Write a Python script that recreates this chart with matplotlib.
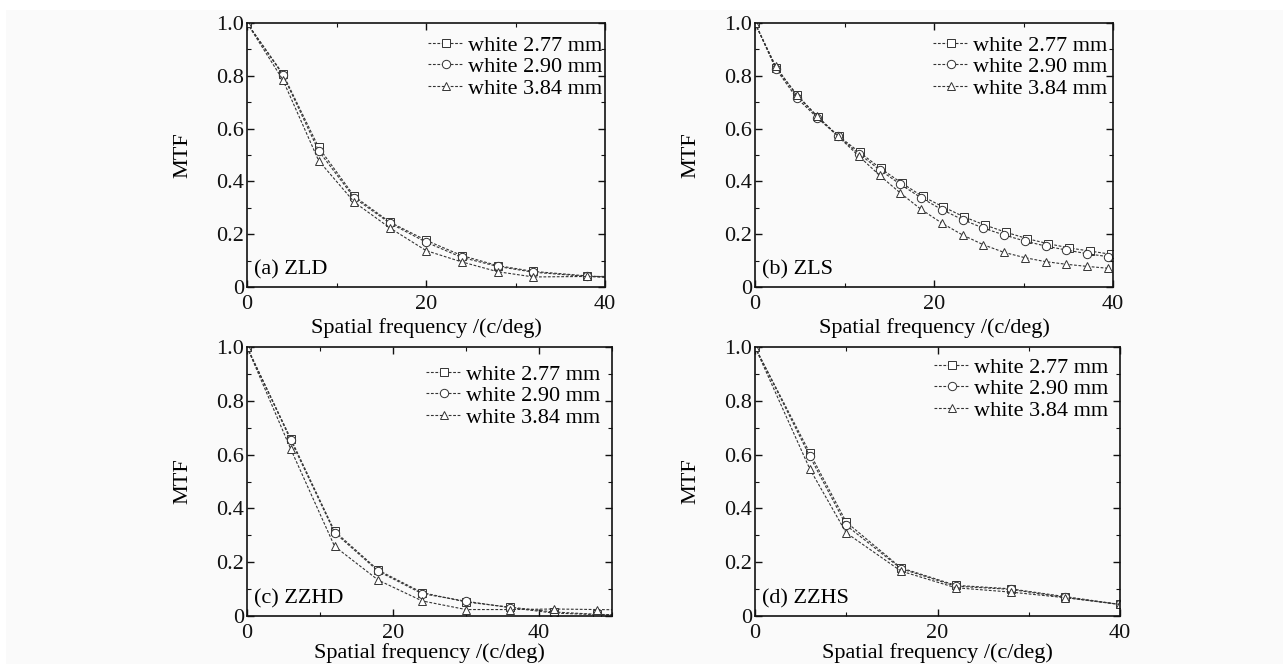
import matplotlib
matplotlib.use("Agg")
import matplotlib.pyplot as plt
from matplotlib.ticker import MultipleLocator, FuncFormatter
from matplotlib.patches import Rectangle

plt.rcParams['font.family'] = ['Liberation Serif', 'DejaVu Serif']

labels = ["white 2.77 mm", "white 2.90 mm", "white 3.84 mm"]
markers = ["s", "o", "^"]

# (a) ZLD
a_x = [0, 4, 8, 12, 16, 20, 24, 28, 32, 38, 42]
a_sq = [1.0, 0.808, 0.529, 0.343, 0.245, 0.177, 0.119, 0.081, 0.059, 0.042, 0.034]
a_ci = [1.0, 0.804, 0.516, 0.337, 0.241, 0.170, 0.112, 0.078, 0.056, 0.040, 0.033]
a_tr = [1.0, 0.785, 0.479, 0.321, 0.223, 0.138, 0.095, 0.058, 0.038, 0.040, 0.040]

# (b) ZLS
b_x_sq = [0, 2.34, 4.68, 7.02, 9.36, 11.7, 14.04, 16.38, 18.72, 21.06, 23.4, 25.74, 28.08, 30.42, 32.76, 35.1, 37.44, 39.78]
b_x_ci = [0, 2.32, 4.64, 6.96, 9.28, 11.6, 13.92, 16.24, 18.56, 20.88, 23.2, 25.52, 27.84, 30.16, 32.48, 34.8, 37.12, 39.44]
b_sq = [1.0, 0.830, 0.729, 0.644, 0.571, 0.510, 0.449, 0.394, 0.343, 0.303, 0.265, 0.234, 0.207, 0.183, 0.164, 0.148, 0.136, 0.124]
b_ci = [1.0, 0.827, 0.717, 0.641, 0.571, 0.505, 0.444, 0.389, 0.338, 0.293, 0.255, 0.223, 0.197, 0.174, 0.155, 0.140, 0.126, 0.115]
b_tr = [1.0, 0.836, 0.726, 0.646, 0.571, 0.496, 0.423, 0.356, 0.294, 0.242, 0.197, 0.160, 0.131, 0.111, 0.096, 0.086, 0.078, 0.071]

# (c) ZZHD
c_x = [0, 6, 12, 18, 24, 30, 36, 42, 48, 54]
c_sq = [1.0, 0.659, 0.315, 0.170, 0.087, 0.052, 0.033, 0.015, 0.006, 0.003]
c_ci = [1.0, 0.653, 0.310, 0.166, 0.083, 0.055, 0.031, 0.011, 0.005, 0.003]
c_tr = [1.0, 0.620, 0.259, 0.133, 0.056, 0.024, 0.024, 0.026, 0.024, 0.022]

# (d) ZZHS
d_x = [0, 6, 10, 16, 22, 28, 34, 40]
d_sq = [1.0, 0.606, 0.349, 0.179, 0.114, 0.101, 0.072, 0.043]
d_ci = [1.0, 0.594, 0.337, 0.176, 0.111, 0.099, 0.069, 0.043]
d_tr = [1.0, 0.547, 0.309, 0.167, 0.105, 0.089, 0.068, 0.043]

W, H = 1283, 664
# (title, xs, ys, xmax, axes rect px (left, top, right, bottom), legend offset px (dx, dy), xlabel pad)
panels = [
    ("(a) ZLD", [a_x, a_x, a_x], [a_sq, a_ci, a_tr], 40, (247, 23, 605, 287), (-3, -12), 3),
    ("(b) ZLS", [b_x_sq, b_x_ci, b_x_ci], [b_sq, b_ci, b_tr], 40, (755, 23, 1113, 287), (-6, -12), 3),
    ("(c) ZZHD", [c_x, c_x, c_x], [c_sq, c_ci, c_tr], 50, (247, 347, 612, 616), (-12, -17), 0),
    ("(d) ZZHS", [d_x, d_x, d_x], [d_sq, d_ci, d_tr], 40, (755, 347, 1120, 616), (-12, -10), 0),
]

BG = '#fafafa'
fig = plt.figure(figsize=(W / 100, H / 100), dpi=100, facecolor='white')
fig.patches.append(Rectangle((0.005, 0.0), 0.995, 0.985, transform=fig.transFigure,
                             facecolor=BG, edgecolor='none', zorder=-10))

def yfmt(v, pos):
    if abs(v) < 1e-9:
        return "0"
    return f"{v:.1f}"

for title, xs, ys, xmax, (l, t, r, b), (dx, dy), xpad in panels:
    w, h = r - l, b - t
    ax = fig.add_axes([l / W, 1 - b / H, w / W, h / H])
    ax.set_facecolor(BG)
    for x, y, m, lab in zip(xs, ys, markers, labels):
        ax.plot(x, y, linestyle=(0, (2.5, 1.5)), color='#333333', linewidth=0.8,
                marker=m, markersize=6, markerfacecolor='white',
                markeredgecolor='#333333', markeredgewidth=0.7, label=lab)
    ax.set_xlim(0, xmax)
    ax.set_ylim(0, 1.0)
    ax.xaxis.set_major_locator(MultipleLocator(20))
    ax.xaxis.set_minor_locator(MultipleLocator(10))
    ax.yaxis.set_major_locator(MultipleLocator(0.2))
    ax.yaxis.set_minor_locator(MultipleLocator(0.1))
    ax.yaxis.set_major_formatter(FuncFormatter(yfmt))
    ax.tick_params(which='both', direction='in', top=True, right=True, labelsize=16, colors='#111111')
    ax.tick_params(which='major', length=5, width=1.0)
    ax.tick_params(which='minor', length=3, width=0.8)
    ax.tick_params(axis='x', which='major', pad=6)
    ax.tick_params(axis='y', which='major', pad=2)
    for s in ax.spines.values():
        s.set_linewidth(1.2)
        s.set_color('#111111')
    ax.set_xlabel("Spatial frequency /(c/deg)", fontsize=16, labelpad=xpad)
    ax.set_ylabel("MTF", fontsize=16, labelpad=17)
    ax.text(0.02, 17 / h, title, transform=ax.transAxes, fontsize=16, ha='left', va='center')
    ax.legend(loc='upper right', frameon=False, fontsize=16, handlelength=1.6,
              handletextpad=0.2, labelspacing=0.05, borderaxespad=0.0, borderpad=0.0,
              bbox_to_anchor=(1 + dx / w, 1 + dy / h))

fig.savefig("out.png", dpi=100, facecolor=fig.get_facecolor())
